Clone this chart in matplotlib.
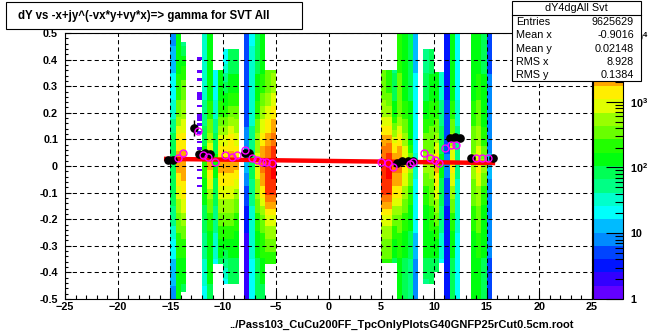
import numpy as np
import matplotlib.pyplot as plt
from matplotlib.colors import ListedColormap, LogNorm, hsv_to_rgb
from matplotlib.patches import Rectangle
from matplotlib.lines import Line2D
from matplotlib.ticker import FixedLocator, FixedFormatter, LogLocator

plt.rcParams['font.family'] = ['Liberation Sans', 'DejaVu Sans']
plt.rcParams['font.weight'] = 'bold'
plt.rcParams['mathtext.fontset'] = 'custom'
plt.rcParams['mathtext.rm'] = 'Liberation Sans:bold'
plt.rcParams['mathtext.bf'] = 'Liberation Sans:bold'

# ---- data -------------------------------------------------------------
# dY profile knots (counts per bin) sampled at these y values
y_knots = [0.5, 0.4, 0.3, 0.2, 0.1, 0.0, -0.1, -0.2, -0.3, -0.4, -0.5]

# left edge of each filled x bin (bin width 0.5), its vertical extent and counts
col_x = [-15.0, -14.5, -14.0,
         -12.0, -11.5, -11.0, -10.5, -10.0, -9.5, -9.0,
         -8.0, -7.5, -7.0, -6.5, -6.0, -5.5,
         5.0, 5.5, 6.0, 6.5, 7.0, 7.5, 8.0,
         9.0, 9.5, 10.0, 10.5, 11.0, 11.5, 12.0,
         13.5, 14.0, 14.5, 15.0]
col_top = [0.5, 0.5, 0.466,
           0.5, 0.5, 0.36, 0.36, 0.44, 0.44, 0.44,
           0.5, 0.5, 0.5, 0.5, 0.36, 0.36,
           0.36, 0.36, 0.36, 0.5, 0.5, 0.5, 0.5,
           0.44, 0.44, 0.353, 0.353, 0.5, 0.5, 0.5,
           0.5, 0.5, 0.5, 0.5]
col_bot = [-0.5, -0.5, -0.475,
           -0.5, -0.5, -0.37, -0.37, -0.447, -0.447, -0.447,
           -0.5, -0.5, -0.5, -0.5, -0.37, -0.37,
           -0.365, -0.365, -0.365, -0.5, -0.5, -0.5, -0.5,
           -0.447, -0.447, -0.40, -0.365, -0.5, -0.5, -0.5,
           -0.5, -0.5, -0.5, -0.5]
col_counts = [
    [8, 13, 21, 33, 83, 83, 83, 52, 21, 13, 8],
    [130, 130, 210, 340, 1400, 2200, 850, 340, 210, 130, 130],
    [33, 130, 340, 540, 1400, 2200, 1400, 540, 210, 130, 83],
    [33, 33, 33, 52, 83, 210, 130, 83, 52, 33, 21],
    [130, 130, 130, 210, 540, 2200, 540, 210, 130, 130, 83],
    [21, 21, 21, 33, 83, 130, 83, 52, 33, 21, 13],
    [130, 130, 130, 210, 850, 2200, 850, 340, 130, 83, 83],
    [21, 21, 83, 210, 850, 2200, 850, 340, 130, 33, 13],
    [83, 83, 130, 340, 1400, 2200, 850, 340, 130, 83, 52],
    [83, 83, 130, 340, 850, 2200, 540, 210, 130, 83, 52],
    [5, 5, 5, 5, 8, 13, 5, 3.2, 2, 2, 2],
    [21, 33, 33, 33, 52, 83, 52, 33, 33, 21, 21],
    [83, 83, 130, 210, 540, 850, 540, 210, 130, 83, 83],
    [130, 130, 210, 540, 1400, 3500, 1400, 340, 210, 130, 83],
    [340, 340, 340, 850, 2200, 5500, 5500, 850, 340, 130, 130],
    [340, 340, 540, 1400, 3500, 8800, 5500, 850, 340, 130, 130],
    [340, 340, 340, 540, 2200, 5500, 5500, 850, 340, 210, 210],
    [210, 210, 210, 540, 2200, 8800, 5500, 850, 340, 210, 210],
    [52, 52, 83, 130, 850, 3500, 1400, 340, 130, 83, 83],
    [210, 210, 340, 340, 1400, 3500, 1400, 340, 210, 130, 130],
    [130, 130, 130, 210, 540, 1400, 540, 210, 130, 83, 83],
    [83, 83, 83, 130, 130, 540, 210, 130, 83, 52, 52],
    [13, 13, 21, 21, 21, 33, 21, 21, 13, 8, 8],
    [52, 52, 83, 130, 340, 540, 210, 130, 130, 83, 33],
    [83, 83, 130, 210, 340, 540, 340, 210, 130, 83, 52],
    [130, 130, 130, 210, 540, 2200, 850, 340, 130, 83, 83],
    [33, 33, 33, 52, 83, 130, 83, 52, 33, 21, 21],
    [3.2, 3.2, 3.2, 5, 5, 8, 5, 3.2, 3.2, 3.2, 3.2],
    [130, 130, 130, 210, 540, 1400, 540, 210, 130, 83, 83],
    [21, 21, 21, 33, 52, 52, 33, 33, 21, 21, 21],
    [130, 130, 130, 210, 340, 540, 340, 210, 130, 130, 130],
    [130, 130, 210, 340, 540, 1400, 540, 340, 210, 130, 130],
    [83, 83, 130, 130, 210, 540, 210, 130, 130, 83, 83],
    [5, 5, 8, 8, 8, 13, 8, 8, 8, 5, 5],
]

# sparsely filled bin at x = -12.5: single-count y runs
sparse_x = -12.5
sparse_runs = [(0.398, 0.41), (0.352, 0.362), (0.318, 0.328), (0.25, 0.28),
               (0.218, 0.232), (0.17, 0.2), (0.148, 0.16), (0.118, 0.128),
               (0.085, 0.095), (0.06, 0.07), (0.03, 0.04), (-0.02, -0.01),
               (-0.05, -0.04), (-0.08, -0.07)]
sparse_count = 1.3

# profile means (filled markers)
blk_x = [-15.25, -14.75, -12.8, -12.25, -11.75, -11.25, -7.9, -7.5,
         6.5, 7.0, 7.5, 8.0, 11.55, 12.0, 12.45, 13.55, 15.6]
blk_y = [0.022, 0.024, 0.142, 0.045, 0.047, 0.045, 0.048, 0.047,
         0.012, 0.02, 0.02, 0.018, 0.105, 0.108, 0.104, 0.031, 0.029]
blk_yerr = [0.004, 0.004, 0.03, 0.004, 0.004, 0.004, 0.004, 0.004,
            0.004, 0.004, 0.004, 0.004, 0.004, 0.004, 0.004, 0.004, 0.004]

# second profile (open markers)
mag_x = [-14.3, -13.85, -12.4, -11.9, -11.4, -10.8, -9.8, -9.2, -8.7, -7.95,
         -7.3, -6.8, -6.35, -5.9, -5.4, 5.0, 5.6, 6.1, 7.7, 8.0,
         9.1, 9.6, 10.1, 10.5, 11.1, 11.6, 12.06, 14.0, 14.6, 15.1]
mag_y = [0.03, 0.05, 0.13, 0.041, 0.035, 0.016, 0.041, 0.035, 0.041, 0.06,
         0.03, 0.023, 0.016, 0.016, 0.01, 0.016, 0.01, -0.003, 0.006, 0.016,
         0.05, 0.031, 0.023, 0.01, 0.066, 0.079, 0.079, 0.029, 0.031, 0.029]

# straight-line fit over the filled range
fit_x = [-15.4, 15.6]
fit_y = [0.0267, 0.0112]

x_ticks = [-25, -20, -15, -10, -5, 0, 5, 10, 15, 20, 25]
y_ticks = [-0.5, -0.4, -0.3, -0.2, -0.1, 0.0, 0.1, 0.2, 0.3, 0.4, 0.5]
y_ticklabels = ['-0.5', '-0.4', '-0.3', '-0.2', '-0.1', '0',
                '0.1', '0.2', '0.3', '0.4', '0.5']
z_ticks = [1, 10, 100, 1000, 10000]
z_ticklabels = ['1', '10', r'$\mathbf{10^{2}}$', r'$\mathbf{10^{3}}$', r'$\mathbf{10^{4}}$']
z_max = 11100

stats_rows = [('Entries', '9625629'), ('Mean x', '-0.9016'), ('Mean y', '0.02148'),
              ('RMS x', '8.928'), ('RMS y', '0.1384')]

# ---- histogram array ----------------------------------------------------
x_edges = np.linspace(-25, 25, 101)
y_edges = np.linspace(-0.5, 0.5, 201)
y_mid = 0.5 * (y_edges[:-1] + y_edges[1:])
z = np.full((len(y_mid), len(x_edges) - 1), np.nan)

for x0, top, bot, counts in zip(col_x, col_top, col_bot, col_counts):
    i = int(round((x0 + 25) / 0.5))
    logc = np.interp(y_mid, y_knots[::-1], np.log10(counts)[::-1])
    prof = 10 ** logc
    prof[(y_mid > top) | (y_mid < bot)] = np.nan
    z[:, i] = prof

i_sp = int(round((sparse_x + 25) / 0.5))
for lo, hi in sparse_runs:
    z[(y_mid >= lo) & (y_mid <= hi), i_sp] = sparse_count

# 20-level violet->red palette
idx = [int((j + 0.99) * 50 / 20) for j in range(20)]
hues = [((280 - (k + 1) * 5.6) / 360) % 1.0 for k in idx]
cmap = ListedColormap(hsv_to_rgb([[h, 1, 1] for h in hues]))
norm = LogNorm(vmin=1, vmax=z_max)

# ---- figure -------------------------------------------------------------
W, H = 656, 334
fig = plt.figure(figsize=(W / 100, H / 100), dpi=100)


def fx(px):
    return px / W


def fy(py):
    return 1 - py / H


ax = fig.add_axes([fx(65), fy(299), (592 - 65) / W, (299 - 33) / H])
mesh = ax.pcolormesh(x_edges, y_edges, np.ma.masked_invalid(z), cmap=cmap, norm=norm)

ax.plot(fit_x, fit_y, color='#ff0000', lw=3.2, zorder=3)
ax.errorbar(blk_x, blk_y, xerr=0.25, yerr=blk_yerr, fmt='o', color='black',
            ms=5.2, lw=1, capsize=0, zorder=4)
ax.plot(mag_x, mag_y, 'o', mfc='none', mec='#ff00ff', ms=5, mew=1, zorder=5)

ax.set_xlim(-25, 25)
ax.set_ylim(-0.5, 0.5)
ax.xaxis.set_major_locator(FixedLocator(x_ticks))
ax.xaxis.set_minor_locator(FixedLocator(np.arange(-25, 26, 1)))
ax.yaxis.set_major_locator(FixedLocator(y_ticks))
ax.yaxis.set_major_formatter(FixedFormatter(y_ticklabels))
ax.yaxis.set_minor_locator(FixedLocator(np.round(np.arange(-0.5, 0.501, 0.02), 2)))
ax.tick_params(which='both', direction='in', top=False, right=False, width=0.8,
               labelsize=7.8)
ax.tick_params(axis='x', which='major', length=6, pad=2.5)
ax.tick_params(axis='x', which='minor', length=3)
ax.tick_params(axis='y', which='major', length=4.5, pad=5)
ax.tick_params(axis='y', which='minor', length=2.2)
ax.grid(which='major', color='black', lw=0.75, linestyle=(0, (4, 3)))
for s in ax.spines.values():
    s.set_linewidth(0.8)

# colour scale
cax = fig.add_axes([fx(593), fy(299), (623 - 593) / W, (299 - 33) / H])
cb = fig.colorbar(mesh, cax=cax)
cb.set_ticks(z_ticks)
cb.set_ticklabels(z_ticklabels)
cax.yaxis.set_minor_locator(LogLocator(base=10, subs=np.arange(2, 10)))
cax.yaxis.set_minor_formatter(plt.NullFormatter())
cax.tick_params(which='both', direction='in', width=0.8, labelsize=7.8, pad=5)
cax.tick_params(which='major', length=12)
cax.tick_params(which='minor', length=6)
cb.outline.set_linewidth(0.8)

# title box
fig.patches.append(Rectangle((fx(6), fy(29)), (302 - 6) / W, (29 - 2) / H,
                             transform=fig.transFigure, fc='white', ec='black',
                             lw=0.8, zorder=10))
fig.text(fx(18), fy(16), 'dY vs -x+jy^(-vx*y+vy*x)=> gamma for SVT All',
         fontsize=8.3, fontweight='bold', ha='left', va='center', zorder=11)

# statistics box
bx0, bx1, by0, by1 = 512, 641, 1, 81
fig.patches.append(Rectangle((fx(bx0), fy(by1)), (bx1 - bx0) / W, (by1 - by0) / H,
                             transform=fig.transFigure, fc='white', ec='black',
                             lw=0.8, zorder=10))
fig.lines.append(Line2D([fx(bx0), fx(bx1)], [fy(15), fy(15)], transform=fig.transFigure,
                        color='black', lw=0.8, zorder=11))
fig.text(fx((bx0 + bx1) / 2), fy(8), 'dY4dgAll Svt', fontsize=7.8, fontweight='normal',
         ha='center', va='center', zorder=11)
for k, (name, val) in enumerate(stats_rows):
    yy = 22 + k * 13.3
    fig.text(fx(516), fy(yy), name, fontsize=7.8, fontweight='normal',
             ha='left', va='center', zorder=11)
    fig.text(fx(634), fy(yy), val, fontsize=7.8, fontweight='normal',
             ha='right', va='center', zorder=11)

fig.text(fx(402), fy(325), '../Pass103_CuCu200FF_TpcOnlyPlotsG40GNFP25rCut0.5cm.root',
         fontsize=8, fontweight='bold', ha='center', va='center')

fig.savefig('out.png', dpi=100)
